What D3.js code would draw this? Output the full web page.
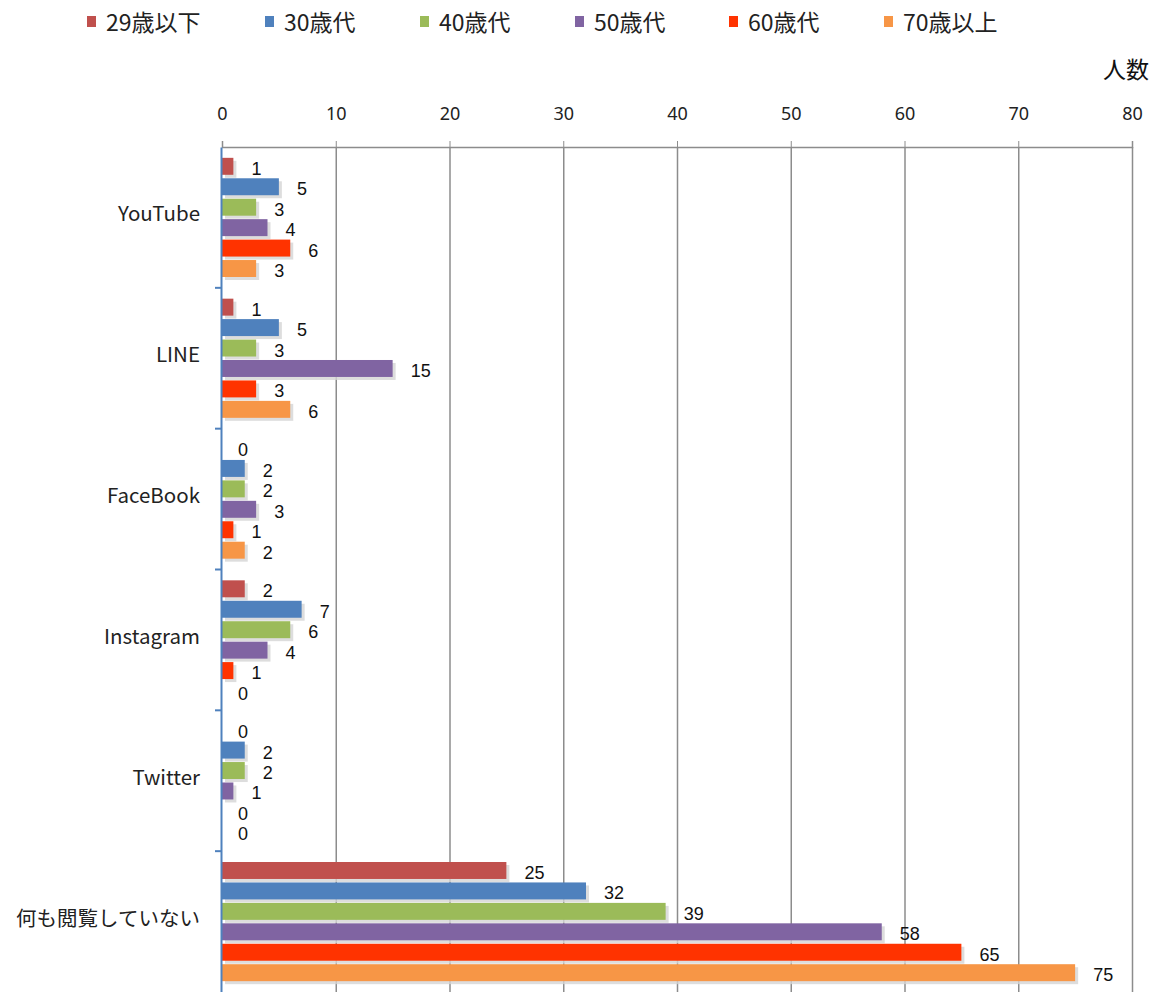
<!DOCTYPE html>
<html><head><meta charset="utf-8">
<script src="https://cdn.jsdelivr.net/npm/d3@7"></script>
<style>
body{margin:0;background:#fff;}
text{font-family:"Noto Sans CJK JP","Noto Sans",sans-serif;}
</style></head>
<body><svg id="chart" width="1160" height="992"></svg>
<script>
const categories = ["YouTube","LINE","FaceBook","Instagram","Twitter","何も閲覧していない"];
const seriesNames = ["29歳以下","30歳代","40歳代","50歳代","60歳代","70歳以上"];
const seriesColors = ["#C0504D","#4F81BD","#9BBB59","#8064A2","#FF3300","#F79646"];
const s29 = [1,1,0,2,0,25];
const s30 = [5,5,2,7,2,32];
const s40 = [3,3,2,6,2,39];
const s50 = [4,15,3,4,1,58];
const s60 = [6,3,1,1,0,65];
const s70 = [3,6,2,0,0,75];
const xTicks = [0,10,20,30,40,50,60,70,80];
const axisTitle = "人数";

(function(){
const seriesValues = [s29,s30,s40,s50,s60,s70];
const svg = d3.select("#chart");
const pL = 222, pR = 1132, pT = 147, pB = 992;

const x = d3.scaleLinear().domain([0,80]).range([pL,pR]);
const y0 = d3.scaleBand().domain(categories).range([pT,pB]).paddingInner(0).paddingOuter(0);
const y1 = d3.scaleBand().domain(seriesNames).range([0,y0.bandwidth()]).paddingInner(0.17).paddingOuter(0.53);

// grid lines
svg.append("g").selectAll("line").data(xTicks.slice(1)).join("line")
  .attr("x1",d=>x(d)+0.5).attr("x2",d=>x(d)+0.5)
  .attr("y1",pT).attr("y2",pB)
  .attr("stroke","#8c8c8c").attr("stroke-width",1.5);

// top axis
const xAxis = d3.axisTop(x).tickValues(xTicks).tickSize(6).tickPadding(21);
const gx = svg.append("g").attr("transform",`translate(0,${pT})`).call(xAxis);
gx.select(".domain").attr("stroke","#8c8c8c").attr("stroke-width",1.5);
gx.selectAll(".tick line").attr("stroke","#8c8c8c");
gx.selectAll(".tick text").attr("font-size",18).attr("fill","#222")
  .style("font-family","'Noto Sans',sans-serif");

svg.append("text").attr("x",1149).attr("y",78).attr("text-anchor","end")
  .attr("font-size",23).attr("fill","#111").text(axisTitle);

// bars
const groups = svg.append("g").selectAll("g").data(categories).join("g")
  .attr("transform",d=>`translate(0,${y0(d)})`);

groups.each(function(cat,ci){
  const g = d3.select(this);
  seriesNames.forEach((s,si)=>{
    const v = seriesValues[si][ci];
    const yy = y1(s), h = y1.bandwidth();
    if (v>0){
      g.append("rect").attr("x",x(0)+3).attr("y",yy+3)
        .attr("width",x(v)-x(0)).attr("height",h)
        .attr("fill","#d4d4d4").attr("opacity",0.8);
      g.append("rect").attr("x",x(0)).attr("y",yy)
        .attr("width",x(v)-x(0)).attr("height",h)
        .attr("fill",seriesColors[si]);
    }
    g.append("text").attr("x",x(v)+(v>0?18:16)).attr("y",yy+h/2+8.5)
      .attr("font-size",18).attr("fill","#111")
      .style("font-family","'Liberation Sans',Arial,sans-serif").text(v);
  });
});

// left axis
const yAxis = d3.axisLeft(y0).tickValues([]).tickSize(0);
const gy = svg.append("g").attr("transform",`translate(${pL-1},0)`).call(yAxis);
gy.select(".domain").attr("stroke","#4F81BD").attr("stroke-width",2);
svg.append("g").selectAll("line").data(categories.slice(1)).join("line")
  .attr("x1",pL-7).attr("x2",pL-1)
  .attr("y1",d=>y0(d)).attr("y2",d=>y0(d))
  .attr("stroke","#4F81BD").attr("stroke-width",2);

svg.append("g").selectAll("text").data(categories).join("text")
  .attr("x",200).attr("y",d=>y0(d)+y0.bandwidth()/2+4)
  .attr("text-anchor","end").attr("font-size",20.5).attr("fill","#222")
  .text(d=>d);

// legend
const legendX = [87,265,420,575,729,884];
const lg = svg.append("g").selectAll("g").data(seriesNames).join("g")
  .attr("transform",(d,i)=>`translate(${legendX[i]},0)`);
lg.append("rect").attr("x",0).attr("y",16).attr("width",9).attr("height",11)
  .attr("fill",(d,i)=>seriesColors[i]);
lg.append("text").attr("x",19).attr("y",31).attr("font-size",23).attr("fill","#222").text(d=>d);
})();
</script></body></html>
